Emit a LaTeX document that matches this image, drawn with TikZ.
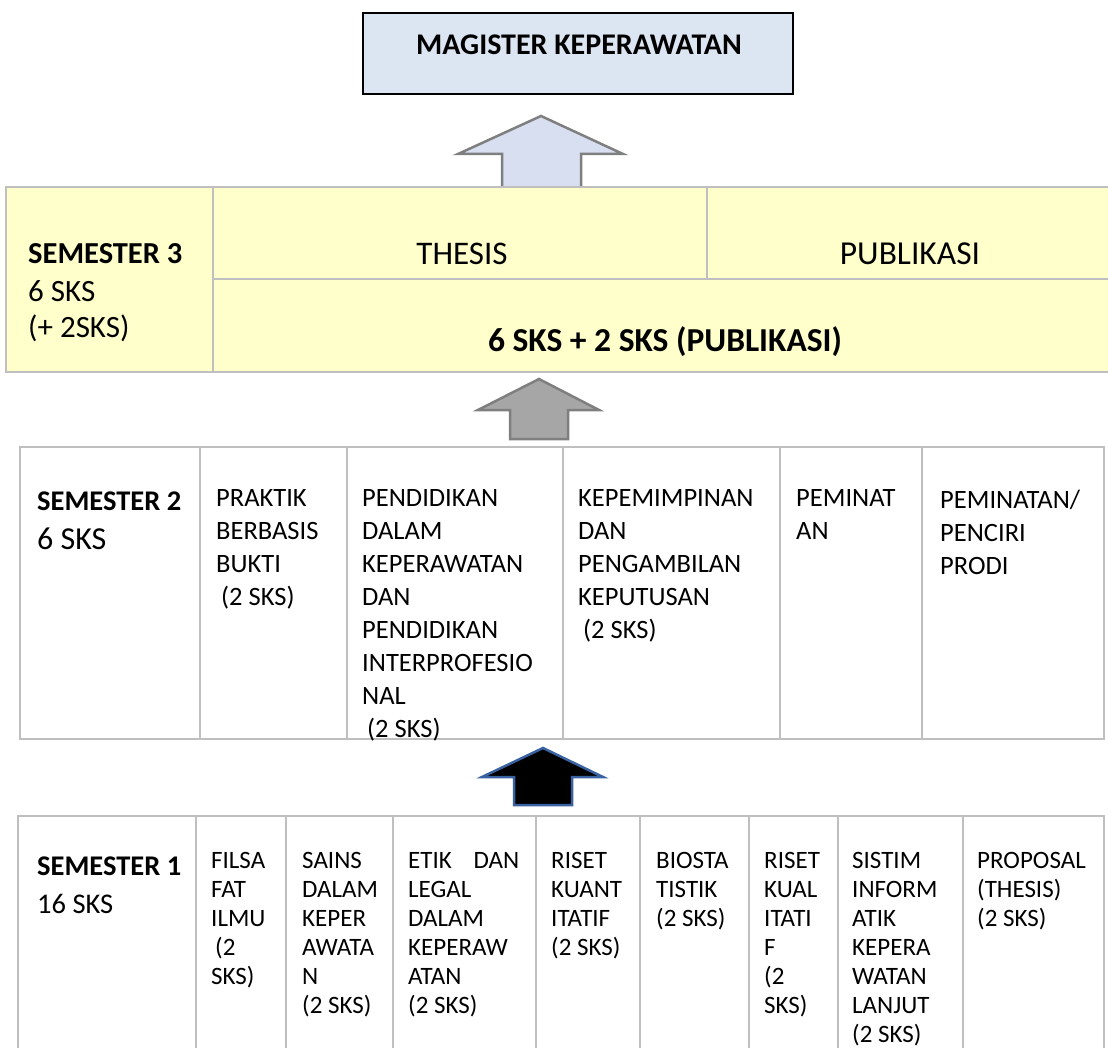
\documentclass[tikz,border=0pt]{standalone}
\usepackage{fontspec}
\setmainfont{Carlito}
\usetikzlibrary{positioning}

\definecolor{titleblue}{HTML}{DCE6F2}
\definecolor{arrblue}{HTML}{D7DFF1}
\definecolor{semyellow}{HTML}{FFFFCC}
\definecolor{gridgray}{HTML}{BFBFBF}
\definecolor{arrgray}{HTML}{A6A6A6}
\definecolor{arredge}{HTML}{7F7F7F}
\definecolor{arrnavy}{HTML}{3B62A0}

\tikzset{
    grid/.style = {draw=gridgray, line width=2pt},
    semhead/.style = {anchor=north west, inner sep=0pt, font=\bfseries\fontsize{28.5}{34}\selectfont},
    semsks/.style = {anchor=north west, inner sep=0pt, align=left, font=\fontsize{31}{36}\selectfont},
    mk2/.style = {anchor=north west, inner sep=0pt, align=left, font=\fontsize{26.5}{33}\selectfont},
    mk1/.style = {anchor=north west, inner sep=0pt, align=left, font=\fontsize{25}{29}\selectfont},
}

\begin{document}
\begin{tikzpicture}[x=1pt, y=-1pt]
    \useasboundingbox (0,0) rectangle (1108,1048);
    \clip (0,0) rectangle (1108,1048);

    % magister box
    \draw[fill=titleblue, line width=2.5pt] (363,13) rectangle (793,94);
    \node[inner sep=0pt, font=\bfseries\fontsize{30}{36}\selectfont] (mk) at (579,45) {MAGISTER KEPERAWATAN};

    \draw[fill=arrblue, draw=arredge, line width=2.5pt]
        (541,116) -- (623,154) -- (581,154) -- (581,193) -- (502,193) -- (502,154) -- (458,154) -- cycle;

    % semester 3
    \draw[grid, fill=semyellow] (6,187) rectangle (1120,372);
    \draw[grid] (213,187) -- (213,372);
    \draw[grid] (213,279) -- (1120,279);
    \draw[grid] (707,187) -- (707,279);
    \node[semhead, font=\bfseries\fontsize{30.5}{36}\selectfont] (s3h) at (28,243) {SEMESTER 3};
    \node[semsks] (s3k) at (28,280) {6 SKS\\(+ 2SKS)};
    \node[inner sep=0pt, font=\fontsize{33}{39}\selectfont] (thesis) at (462,254) {THESIS};
    \node[inner sep=0pt, font=\fontsize{33.5}{40}\selectfont] (publ) at (910,254) {PUBLIKASI};
    \node[inner sep=0pt, font=\bfseries\fontsize{33.5}{40}\selectfont] (s3tot) at (665,342) {6 SKS + 2 SKS (PUBLIKASI)};

    \draw[fill=arrgray, draw=arredge, line width=2.5pt]
        (539,379) -- (599,410) -- (568,410) -- (568,439) -- (510,439) -- (510,410) -- (478,410) -- cycle;

    % semester 2
    \draw[grid] (20,447) rectangle (1104,739);
    \foreach \x in {200,347,563,780,922}
        \draw[grid] (\x,447) -- (\x,739);
    \node[semhead] (s2h) at (37,492) {SEMESTER 2};
    \node[semsks, font=\fontsize{32}{38}\selectfont] (s2k) at (37,528) {6 SKS};
    \node[mk2] (ebp) at (216,489.5) {PRAKTIK\\BERBASIS\\BUKTI\\\hspace*{5pt}(2 SKS)};
    \node[mk2] (pend) at (362,489.5) {PENDIDIKAN\\DALAM\\KEPERAWATAN\\DAN\\PENDIDIKAN\\INTERPROFESIO\\NAL\\\hspace*{5pt}(2 SKS)};
    \node[mk2] (lead) at (578,489.5) {KEPEMIMPINAN\\DAN\\PENGAMBILAN\\KEPUTUSAN\\\hspace*{5pt}(2 SKS)};
    \node[mk2] (pem) at (796,489.5) {PEMINAT\\AN};
    \node[mk2] (prodi) at (940,489.5) {PEMINATAN/\\PENCIRI\\PRODI};

    \draw[fill=black, draw=arrnavy, line width=2.5pt]
        (543,748) -- (603,777) -- (572,777) -- (572,805) -- (514,805) -- (514,777) -- (482,777) -- cycle;

    % semester 1
    \draw[grid] (18,816) rectangle (1104,1060);
    \foreach \x in {196,286,393,536,640,749,838,963}
        \draw[grid] (\x,816) -- (\x,1060);
    \node[semhead] (s1h) at (37,857) {SEMESTER 1};
    \node[semsks, font=\fontsize{28.5}{34}\selectfont] (s1k) at (37,894) {16 SKS};
    \node[mk1] (fil) at (211,852) {FILSA\\FAT\\ILMU\\\hspace*{4pt}(2\\SKS)};
    \node[mk1] (sains) at (302,852) {SAINS\\DALAM\\KEPER\\AWATA\\N\\(2 SKS)};
    \node[mk1] (etik) at (408,852) {\makebox[111pt][s]{ETIK DAN}\\LEGAL\\DALAM\\KEPERAW\\ATAN\\(2 SKS)};
    \node[mk1] (kuan) at (551,852) {RISET\\KUANT\\ITATIF\\(2 SKS)};
    \node[mk1] (bio) at (656,852) {BIOSTA\\TISTIK\\(2 SKS)};
    \node[mk1] (kual) at (764,852) {RISET\\KUAL\\ITATI\\F\\(2\\SKS)};
    \node[mk1] (sim) at (852,852) {SISTIM\\INFORM\\ATIK\\KEPERA\\WATAN\\LANJUT\\(2 SKS)};
    \node[mk1] (prop) at (977,852) {PROPOSAL\\(THESIS)\\(2 SKS)};
\end{tikzpicture}
\end{document}
